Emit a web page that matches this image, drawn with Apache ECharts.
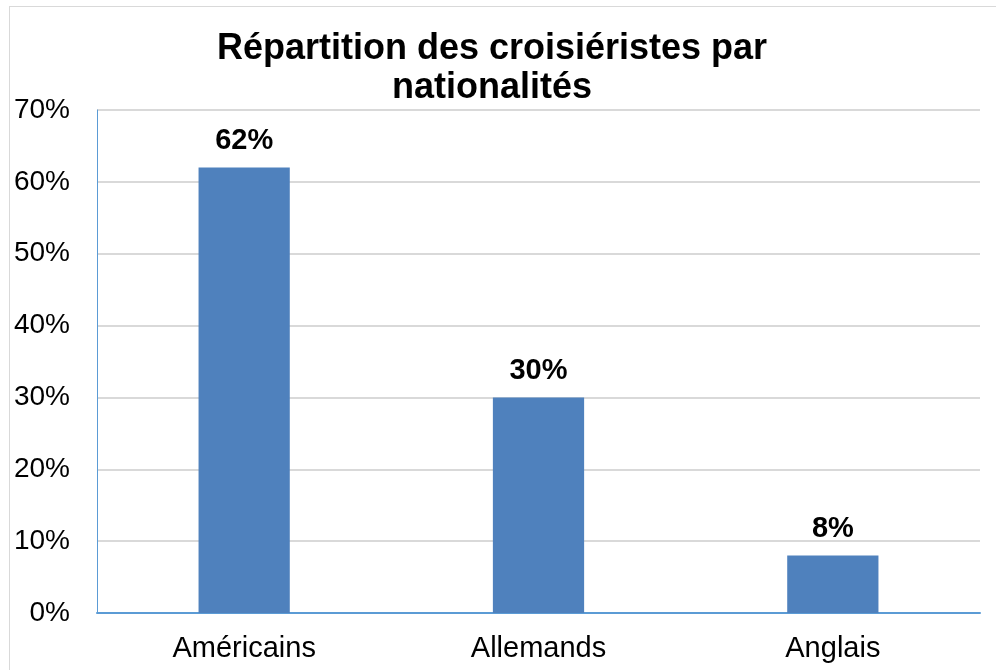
<!DOCTYPE html>
<html>
<head>
<meta charset="utf-8">
<script src="https://cdn.jsdelivr.net/npm/echarts@6/dist/echarts.min.js"></script>
<style>
  html, body { margin: 0; padding: 0; background: #fff; }
  #frame { position: absolute; left: 9px; top: 6px; width: 990px; height: 680px; border: 1px solid #d9d9d9; box-sizing: border-box; }
  #main { position: absolute; left: 0; top: 0; width: 996px; height: 670px; }
</style>
</head>
<body>
<div id="frame"></div>
<div id="main"></div>
<script>
// données
var categories = ['Américains', 'Allemands', 'Anglais'];
var values = [62, 30, 8];
var yTicks = [0, 10, 20, 30, 40, 50, 60, 70];

var myChart = echarts.init(document.getElementById('main'));

var option = {
    animation: false,
    title: {
        text: 'Répartition des croisiéristes par\nnationalités',
        left: 487,
        top: 25,
        textAlign: 'center',
        textStyle: {
            fontFamily: 'Liberation Sans',
            fontSize: 36,
            fontWeight: 'bold',
            color: '#000',
            lineHeight: 39
        }
    },
    grid: {
        left: 97,
        right: 16,
        top: 110,
        bottom: 57
    },
    xAxis: {
        type: 'category',
        data: categories,
        axisTick: { show: false },
        axisLine: { lineStyle: { color: '#5b9bd5', width: 2 } },
        axisLabel: {
            margin: 21,
            fontFamily: 'Liberation Sans',
            fontSize: 29,
            color: '#000'
        }
    },
    yAxis: {
        type: 'value',
        min: yTicks[0],
        max: yTicks[yTicks.length - 1],
        interval: 10,
        axisLine: { show: true, lineStyle: { color: '#5b9bd5', width: 1 } },
        axisTick: { show: false },
        splitLine: { lineStyle: { color: '#d9d9d9', width: 2 } },
        axisLabel: {
            margin: 27,
            fontFamily: 'Liberation Sans',
            fontSize: 28,
            color: '#000',
            formatter: '{value}%'
        }
    },
    series: [{
        type: 'bar',
        data: values,
        barWidth: '31%',
        itemStyle: { color: '#4f81bd' },
        label: {
            show: true,
            position: 'top',
            distance: 12,
            formatter: '{c}%',
            fontFamily: 'Liberation Sans',
            fontSize: 29,
            fontWeight: 'bold',
            color: '#000'
        }
    }]
};

myChart.setOption(option);
</script>
</body>
</html>
